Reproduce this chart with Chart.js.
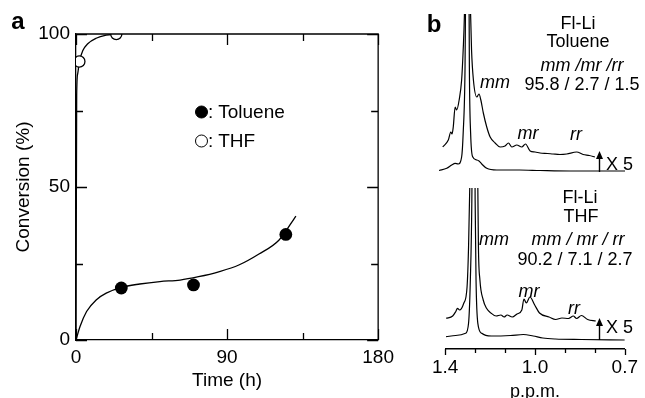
<!DOCTYPE html>
<html>
<head>
<meta charset="utf-8">
<script src="https://cdn.jsdelivr.net/npm/chart.js@4.4.0/dist/chart.umd.min.js"></script>
<style>
  html, body { margin: 0; padding: 0; background: #fff; overflow: hidden; }
  #fig { position: relative; width: 645px; height: 398px; overflow: hidden;
         font-family: 'Liberation Sans', Arial, Helvetica, sans-serif; color: #000; }
  #fig canvas { position: absolute; }
  .t { position: absolute; transform: translate(-50%, -50%); white-space: nowrap; line-height: 1; font-size: 18px; }
  .l { transform: translate(0, -50%); }
  .big { font-size: 24px; font-weight: bold; }
  .a19 { font-size: 19px; }
  .i { font-style: italic; }
  .dot { display: inline-block; box-sizing: border-box; width: 13px; height: 13px; border-radius: 50%;
         border: 1.3px solid #000; background: #fff; vertical-align: -1px; }
  .dot.fill { background: #000; }
  svg { position: absolute; }
</style>
</head>
<body>
<div id="fig">
  <canvas id="chartA" width="400" height="398" style="left:0;top:0"></canvas>
  <canvas id="chartB1" width="220" height="180" style="left:425px;top:0"></canvas>
  <canvas id="chartB2" width="220" height="224" style="left:425px;top:180px"></canvas>

  <div class="t big" style="left:18px;top:21px">a</div>
  <div class="t big" style="left:434px;top:24px">b</div>

  <div class="t l a19" style="left:195px;top:111px"><span class="dot fill"></span>: Toluene</div>
  <div class="t l a19" style="left:195px;top:140px"><span class="dot"></span>: THF</div>

  <div class="t" style="left:578px;top:23px">Fl-Li</div>
  <div class="t" style="left:578px;top:41px">Toluene</div>
  <div class="t i" style="left:582px;top:65px">mm /mr /rr</div>
  <div class="t" style="left:582px;top:84px">95.8 / 2.7 / 1.5</div>
  <div class="t i" style="left:495px;top:82px">mm</div>
  <div class="t i" style="left:528px;top:133px">mr</div>
  <div class="t i" style="left:576px;top:134px">rr</div>
  <div class="t l" style="left:606px;top:164px">X 5</div>
  <svg style="left:595px;top:151px" width="9" height="21">
    <line x1="4.5" y1="6" x2="4.5" y2="21" stroke="#000" stroke-width="1.4"/>
    <polygon points="4.5,0 1,8 8,8" fill="#000"/>
  </svg>

  <div class="t" style="left:580px;top:197px">Fl-Li</div>
  <div class="t" style="left:581px;top:216px">THF</div>
  <div class="t i" style="left:578px;top:239px">mm / mr / rr</div>
  <div class="t" style="left:575px;top:259px">90.2 / 7.1 / 2.7</div>
  <div class="t i" style="left:494px;top:239px">mm</div>
  <div class="t i" style="left:529px;top:291px">mr</div>
  <div class="t i" style="left:574px;top:308px">rr</div>
  <div class="t l" style="left:606px;top:327px">X 5</div>
  <svg style="left:595px;top:318px" width="9" height="22">
    <line x1="4.5" y1="6" x2="4.5" y2="22" stroke="#000" stroke-width="1.4"/>
    <polygon points="4.5,0 1,8 8,8" fill="#000"/>
  </svg>
</div>

<script>
// ---- panel a: conversion vs time ----
const timeTicks = [0, 45, 90, 135, 180];
const timeTickLabels = ['0', '', '90', '', '180'];
const convTicks = [0, 25, 50, 75, 100];
const convTickLabels = ['0', '', '50', '', '100'];

const thfTime = [2, 24];
const thfConv = [91, 100];
const tolTime = [27, 70, 125];
const tolConv = [17, 18, 34.5];

// fitted curves
const thfFitTime = [0, 0.4, 1, 2, 4, 7, 12, 18, 24];
const thfFitConv = [0, 80, 87, 91, 94.5, 96.8, 98.6, 99.6, 100];
const tolFitTime = [0, 2.4, 6.3, 12, 18, 27, 38, 50, 62, 73, 85, 97, 109, 121, 131];
const tolFitConv = [0, 4.4, 9.3, 13.1, 15.3, 17.2, 18.3, 19.1, 19.6, 20.7, 22.3, 24.5, 28.1, 32.7, 40.5];

// ---- panel b: 1H NMR, alpha-CH3 region ----
const ppmTicks = [1.3, 1.2, 1.1, 1.0, 0.9, 0.8, 0.7];
const ppmTickLabels = ['1.4', '', '', '1.0', '', '', '0.7'];

const tolX5Ppm = [1.288, 1.270, 1.262, 1.258, 1.254, 1.248, 1.243, 1.235, 1.227, 1.222, 1.218, 1.214, 1.208, 1.202, 1.198, 1.195, 1.189, 1.178, 1.171, 1.165, 1.157, 1.146, 1.135, 1.119, 1.103, 1.087, 1.076, 1.065, 1.049, 1.033, 1.021, 1.006, 0.990, 0.974, 0.950, 0.932, 0.910, 0.888, 0.856, 0.835, 0.815, 0.797];
const tolX5Int = [23, 30, 38, 36, 43, 63, 60, 70, 90, 120, 155, 230, 420, 230, 155, 120, 90, 73, 76, 70, 57, 43, 33, 27, 23, 24, 27, 23, 25, 23, 26, 19, 18, 17, 16.5, 16, 15.5, 16, 18, 15.5, 14.5, 13];
const tolPpm = [1.300, 1.275, 1.259, 1.248, 1.238, 1.227, 1.222, 1.216, 1.211, 1.208, 1.205, 1.202, 1.198, 1.191, 1.178, 1.171, 1.162, 1.146, 1.114, 1.040, 0.974, 0.877, 0.781, 0.700];
const tolInt = [-0.5, 1.7, 5, 6.7, 6, 13, 37, 103, 300, 500, 300, 103, 37, 13, 10, 9, 6, 1.7, 0, 0, -0.5, -1, -1, -1];

const thfX5Ppm = [1.297, 1.275, 1.265, 1.259, 1.252, 1.238, 1.227, 1.222, 1.218, 1.214, 1.206, 1.197, 1.191, 1.189, 1.184, 1.173, 1.162, 1.146, 1.130, 1.114, 1.103, 1.093, 1.076, 1.060, 1.044, 1.037, 1.029, 1.017, 1.001, 0.985, 0.953, 0.931, 0.910, 0.888, 0.872, 0.861, 0.845, 0.824, 0.797];
const thfX5Int = [18.7, 21, 25.3, 28.7, 27, 33.7, 50, 90, 149, 250, 450, 250, 149, 90, 57, 37, 28.7, 23.7, 21, 22, 20, 22, 20, 23, 27, 38, 34, 40, 32, 24, 20, 17.5, 19, 18.5, 21, 18.5, 21.5, 17.5, 16];
const thfPpm = [1.297, 1.265, 1.232, 1.222, 1.216, 1.211, 1.205, 1.200, 1.197, 1.191, 1.178, 1.146, 1.082, 1.039, 1.006, 0.974, 0.932, 0.845, 0.700];
const thfInt = [0.3, 1.5, 3.7, 13.7, 57, 137, 400, 137, 57, 13.7, 3.7, 1, 1.5, 2.5, 1, -1, -2, -2.5, -3];

const FONT = "'Liberation Sans', Arial, Helvetica, sans-serif";
Chart.defaults.font.family = FONT;
Chart.defaults.font.size = 19;
Chart.defaults.color = '#000';

function pairs(xs, ys) {
  return xs.map((v, i) => ({ x: v, y: ys[i] }));
}

function labelFor(values, labels) {
  return function(value) {
    const i = values.findIndex(v => Math.abs(v - value) < 1e-6);
    return i >= 0 ? labels[i] : '';
  };
}

// inward ticks on all four sides plus the top/right frame lines
const frameTicks = {
  id: 'frameTicks',
  afterDraw(chart) {
    const { ctx, chartArea: a, scales: { x, y } } = chart;
    ctx.save();
    ctx.strokeStyle = '#000';
    ctx.lineWidth = 1.3;
    ctx.beginPath();
    ctx.moveTo(a.left, a.top);
    ctx.lineTo(a.right, a.top);
    ctx.lineTo(a.right, a.bottom);
    x.ticks.forEach(t => {
      const px = Math.round(x.getPixelForValue(t.value)) + 0.5;
      const len = t.label ? 11 : 7;
      ctx.moveTo(px, a.bottom); ctx.lineTo(px, a.bottom - len);
      ctx.moveTo(px, a.top); ctx.lineTo(px, a.top + len);
    });
    y.ticks.forEach(t => {
      const py = Math.round(y.getPixelForValue(t.value)) + 0.5;
      const len = t.label ? 11 : 7;
      ctx.moveTo(a.left, py); ctx.lineTo(a.left + len, py);
      ctx.moveTo(a.right, py); ctx.lineTo(a.right - len, py);
    });
    ctx.stroke();
    ctx.restore();
  }
};

// downward ticks under the ppm axis
const ppmTickMarks = {
  id: 'ppmTickMarks',
  afterDraw(chart) {
    const { ctx, chartArea: a, scales: { x } } = chart;
    ctx.save();
    ctx.strokeStyle = '#000';
    ctx.lineWidth = 1.3;
    ctx.beginPath();
    x.ticks.forEach(t => {
      const px = Math.round(x.getPixelForValue(t.value)) + 0.5;
      const len = t.label ? 6 : 4;
      ctx.moveTo(px, a.bottom); ctx.lineTo(px, a.bottom + len);
    });
    ctx.stroke();
    ctx.restore();
  }
};

const curve = {
  showLine: true,
  pointRadius: 0,
  borderColor: '#000',
  borderWidth: 1.3,
  cubicInterpolationMode: 'monotone',
  order: 2
};

new Chart(document.getElementById('chartA'), {
  type: 'scatter',
  data: {
    datasets: [
      { label: 'THF', data: pairs(thfTime, thfConv), pointRadius: 5.6, pointBorderWidth: 1.3,
        pointBackgroundColor: '#fff', pointBorderColor: '#000', order: 0 },
      { label: 'Toluene', data: pairs(tolTime, tolConv), pointRadius: 6.4, pointBorderWidth: 0,
        pointBackgroundColor: '#000', pointBorderColor: '#000', order: 0 },
      Object.assign({ label: 'THF fit', data: pairs(thfFitTime, thfFitConv) }, curve),
      Object.assign({ label: 'Toluene fit', data: pairs(tolFitTime, tolFitConv) }, curve)
    ]
  },
  options: {
    responsive: false,
    animation: false,
    devicePixelRatio: 1,
    events: [],
    layout: { padding: { left: 0, top: 34, right: 20, bottom: 0 } },
    plugins: { legend: { display: false }, tooltip: { enabled: false } },
    scales: {
      x: {
        type: 'linear', min: 0, max: 180,
        afterFit: s => { s.height = 58; },
        afterBuildTicks: s => { s.ticks = timeTicks.map(v => ({ value: v })); },
        grid: { display: false, drawTicks: false },
        border: { display: true, color: '#000', width: 1.3 },
        ticks: { padding: 6, maxRotation: 0, autoSkip: false, callback: labelFor(timeTicks, timeTickLabels) },
        title: { display: true, text: 'Time (h)', padding: { top: 0, bottom: 6 } }
      },
      y: {
        type: 'linear', min: 0, max: 100,
        afterFit: s => { s.width = 76; },
        afterBuildTicks: s => { s.ticks = convTicks.map(v => ({ value: v })); },
        grid: { display: false, drawTicks: false },
        border: { display: true, color: '#000', width: 1.3 },
        ticks: { padding: 6, autoSkip: false, callback: labelFor(convTicks, convTickLabels) },
        title: { display: true, text: 'Conversion (%)', padding: { top: 12, bottom: 0 } }
      }
    }
  },
  plugins: [frameTicks]
});

const spec = {
  showLine: true,
  pointRadius: 0,
  borderColor: '#000',
  borderWidth: 1.2,
  cubicInterpolationMode: 'monotone'
};

function specOptions(yMin, yMax, padTop, axisHeight) {
  const withAxis = axisHeight > 0;
  return {
    responsive: false,
    animation: false,
    devicePixelRatio: 1,
    events: [],
    layout: { padding: { left: 14, top: padTop, right: 20, bottom: withAxis ? 0 : 2 } },
    plugins: { legend: { display: false }, tooltip: { enabled: false } },
    scales: {
      x: {
        type: 'linear', min: 0.7, max: 1.3, reverse: true,
        display: withAxis,
        afterFit: s => { if (withAxis) s.height = axisHeight; },
        afterBuildTicks: s => { s.ticks = ppmTicks.map(v => ({ value: v })); },
        grid: { display: false, drawTicks: false },
        border: { display: true, color: '#000', width: 1.4 },
        ticks: { padding: 7, maxRotation: 0, autoSkip: false, callback: labelFor(ppmTicks, ppmTickLabels) },
        title: { display: true, text: 'p.p.m.', font: { size: 18, lineHeight: 1 }, padding: { top: 0, bottom: 3 } }
      },
      y: { type: 'linear', min: yMin, max: yMax, display: false }
    }
  };
}

new Chart(document.getElementById('chartB1'), {
  type: 'scatter',
  data: {
    datasets: [
      Object.assign({ label: 'Toluene x5', data: pairs(tolX5Ppm, tolX5Int) }, spec),
      Object.assign({ label: 'Toluene', data: pairs(tolPpm, tolInt) }, spec)
    ]
  },
  options: specOptions(-8, 156, 14, 0)
});

new Chart(document.getElementById('chartB2'), {
  type: 'scatter',
  data: {
    datasets: [
      Object.assign({ label: 'THF x5', data: pairs(thfX5Ppm, thfX5Int) }, spec),
      Object.assign({ label: 'THF', data: pairs(thfPpm, thfInt) }, spec)
    ]
  },
  options: specOptions(-12, 149, 8, 55),
  plugins: [ppmTickMarks]
});
</script>
</body>
</html>
